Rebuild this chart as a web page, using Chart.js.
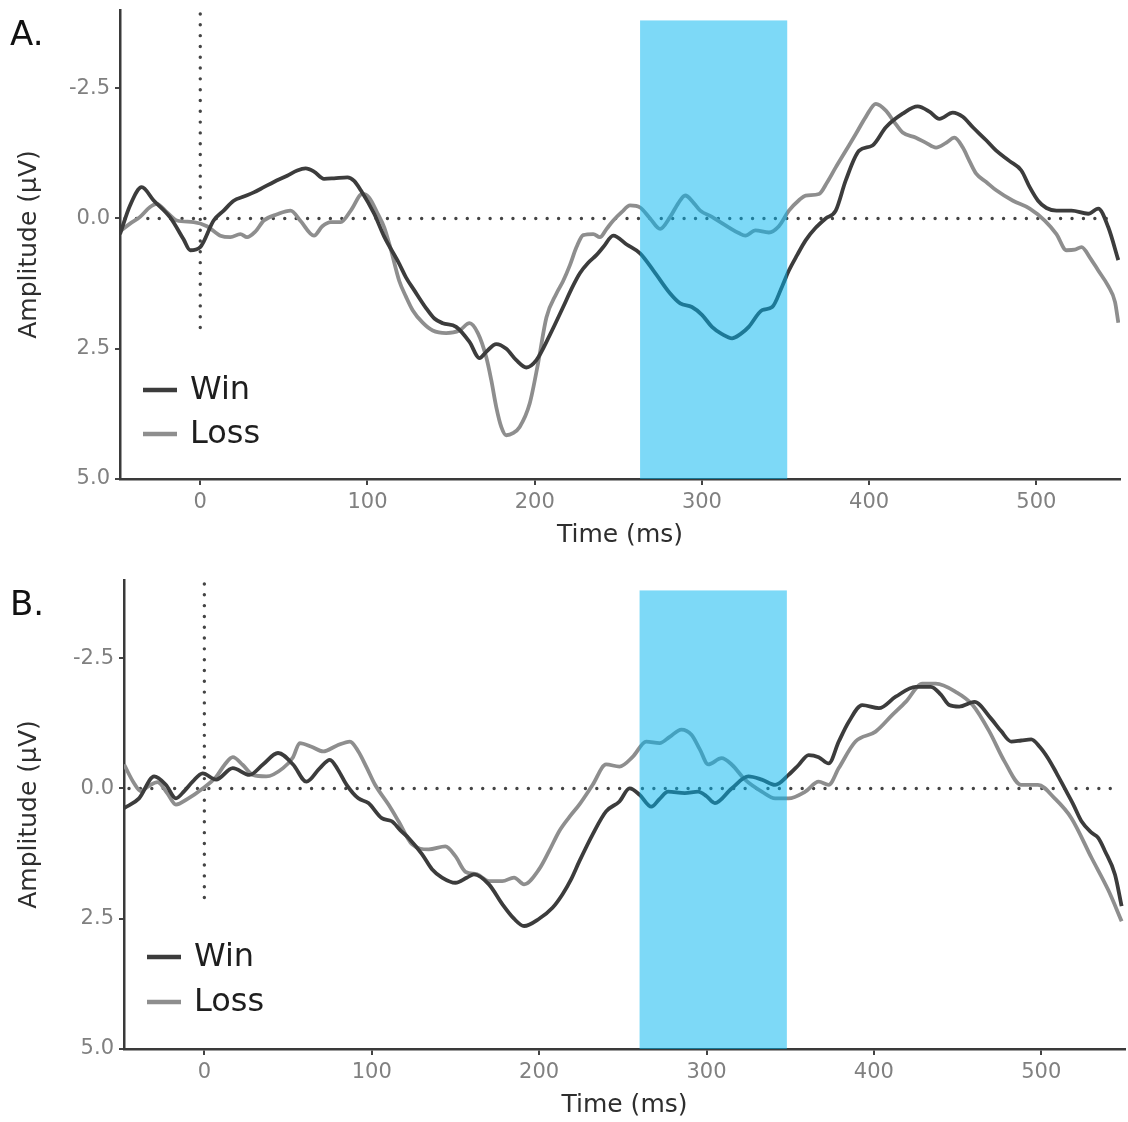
<!DOCTYPE html>
<html>
<head>
<meta charset="utf-8">
<title>Win vs Loss ERP</title>
<script src="https://cdn.jsdelivr.net/npm/chart.js@4.4.0/dist/chart.umd.min.js"></script>
<style>
  html, body { margin: 0; padding: 0; background: #fff; }
  #page { position: relative; width: 1128px; height: 1122px; overflow: hidden; }
  canvas { position: absolute; left: 0; }
  #chartA { top: 0; }
  #chartB { top: 565px; }
  .panel-label { position: absolute; left: 10px; font: 34px 'DejaVu Sans'; line-height: 34px; color: #111; }
</style>
</head>
<body>
<div id="page">
  <canvas id="chartA" width="1128" height="565"></canvas>
  <canvas id="chartB" width="1128" height="557"></canvas>
  <div class="panel-label" style="top:16px">A.</div>
  <div class="panel-label" style="top:586px">B.</div>
</div>
<script>
// axis setup (ms / microvolts)
const timeRange = [-48, 550];
const amplitudeRange = [-4, 5];
const timeTicks = [0, 100, 200, 300, 400, 500];
const amplitudeTicks = [-2.5, 0, 2.5, 5];
const seriesLabels = ['Win', 'Loss'];

// shaded analysis window and reference lines
const windowA = [263, 351];
const windowB = [260, 348];
const windowTop = -3.8;
const onsetLineEnd = 2.15;
const baselineEnd = 547;

// panel A: [time, amplitude]
const winA = [
	[-48, 0.3], [-42, -0.25], [-35, -0.6], [-28, -0.35], [-18, -0.02], [-10, 0.4], [-6, 0.61], [0, 0.55],
	[8, 0.04], [14, -0.15], [20, -0.34], [26, -0.42], [32, -0.5], [38, -0.6], [44, -0.7], [52, -0.82],
	[58, -0.92], [63, -0.96], [68, -0.9], [74, -0.76], [80, -0.77], [88, -0.79], [92, -0.72], [96, -0.54],
	[104, -0.09], [110, 0.35], [119, 0.87], [123, 1.13], [128, 1.38], [135, 1.72], [140, 1.92], [145, 2.01],
	[153, 2.08], [161, 2.37], [167, 2.68], [171, 2.56], [177, 2.41], [183, 2.5], [189, 2.72], [195, 2.86],
	[201, 2.72], [209, 2.24], [217, 1.7], [222, 1.35], [227, 1.05], [232, 0.85], [237, 0.7], [241, 0.55],
	[247, 0.33], [255, 0.5], [263, 0.67], [271, 1.0], [281, 1.44], [287, 1.63], [294, 1.7], [300, 1.85],
	[306, 2.08], [312, 2.22], [318, 2.3], [323, 2.22], [328, 2.08], [336, 1.76], [342, 1.7], [348, 1.3],
	[352, 1.0], [357, 0.7], [362, 0.42], [368, 0.18], [374, 0], [380, -0.15], [386, -0.73], [394, -1.3],
	[402, -1.4], [410, -1.75], [420, -2.01], [429, -2.15], [436, -2.05], [442, -1.91], [450, -2.03], [456, -1.95],
	[462, -1.75], [470, -1.5], [476, -1.3], [484, -1.1], [491, -0.92], [496, -0.6], [501, -0.34], [506, -0.2],
	[512, -0.15], [521, -0.15], [531, -0.09], [537, -0.19], [543, 0.17], [549, 0.8]
];
const lossA = [
	[-48, 0.25], [-42, 0.1], [-36, -0.03], [-30, -0.22], [-26, -0.28], [-20, -0.12], [-14, 0.04], [-4, 0.07],
	[4, 0.15], [12, 0.33], [18, 0.36], [24, 0.3], [28, 0.36], [33, 0.25], [38, 0.04], [46, -0.08],
	[54, -0.15], [60, 0.05], [68, 0.33], [73, 0.15], [78, 0.07], [84, 0.07], [90, -0.15], [97, -0.47],
	[101, -0.4], [106, -0.1], [110, 0.17], [114, 0.6], [119, 1.2], [123, 1.5], [127, 1.76], [133, 2.0],
	[139, 2.15], [147, 2.2], [155, 2.15], [161, 2.01], [166, 2.2], [171, 2.66], [174, 3.1], [177, 3.62],
	[180, 4.0], [183, 4.16], [187, 4.12], [191, 4.0], [197, 3.55], [202, 2.78], [207, 1.9], [213, 1.44],
	[217, 1.2], [221, 0.9], [225, 0.55], [229, 0.32], [235, 0.3], [239, 0.36], [243, 0.2], [247, 0.04],
	[252, -0.12], [257, -0.25], [263, -0.21], [269, 0.0], [275, 0.2], [281, -0.03], [286, -0.3], [290, -0.44],
	[295, -0.3], [299, -0.15], [306, -0.03], [311, 0.07], [316, 0.17], [322, 0.28], [326, 0.33], [332, 0.23],
	[340, 0.27], [346, 0.15], [352, -0.15], [358, -0.35], [362, -0.44], [370, -0.47], [375, -0.7], [380, -0.98],
	[386, -1.3], [392, -1.62], [398, -1.95], [404, -2.2], [410, -2.07], [415, -1.85], [420, -1.65], [428, -1.55],
	[434, -1.45], [440, -1.36], [446, -1.45], [451, -1.55], [456, -1.36], [460, -1.1], [464, -0.86], [470, -0.7],
	[476, -0.54], [486, -0.34], [496, -0.19], [505, 0.04], [512, 0.3], [518, 0.61], [523, 0.6], [527, 0.55],
	[532, 0.75], [537, 1.0], [543, 1.3], [547, 1.6], [549, 2.0]
];

// panel B: [time, amplitude]
const winB = [
	[-48, 0.38], [-39, 0.19], [-30, -0.23], [-23, -0.07], [-17, 0.19], [-12, 0.05], [-7, -0.13], [-1, -0.29],
	[7, -0.17], [17, -0.39], [27, -0.26], [35, -0.46], [44, -0.68], [53, -0.46], [61, -0.13], [69, -0.39],
	[75, -0.55], [80, -0.35], [85, -0.07], [92, 0.19], [98, 0.28], [106, 0.57], [112, 0.63], [117, 0.8],
	[122, 0.95], [130, 1.26], [136, 1.55], [142, 1.71], [150, 1.81], [157, 1.71], [161, 1.65], [170, 1.84],
	[178, 2.22], [185, 2.5], [191, 2.64], [200, 2.5], [208, 2.29], [214, 2.03], [219, 1.75], [224, 1.4],
	[232, 0.88], [240, 0.44], [248, 0.25], [254, 0.0], [260, 0.12], [267, 0.35], [272, 0.2], [277, 0.06],
	[287, 0.09], [295, 0.06], [300, 0.15], [305, 0.28], [315, 0.0], [325, -0.23], [333, -0.17], [341, -0.07],
	[349, -0.26], [355, -0.45], [361, -0.64], [367, -0.6], [373, -0.48], [379, -0.9], [385, -1.28], [393, -1.6],
	[403, -1.54], [413, -1.76], [425, -1.95], [434, -1.95], [440, -1.8], [445, -1.6], [451, -1.57], [460, -1.66],
	[470, -1.34], [476, -1.1], [482, -0.9], [488, -0.92], [494, -0.94], [499, -0.8], [504, -0.58], [509, -0.3],
	[514, 0.0], [519, 0.3], [524, 0.63], [530, 0.85], [534, 0.95], [538, 1.2], [544, 1.65], [548, 2.26]
];
const lossB = [
	[-48, -0.46], [-42, -0.1], [-38, 0.05], [-33, -0.05], [-28, -0.12], [-22, 0.1], [-17, 0.31], [-10, 0.2],
	[-1, 0.0], [7, -0.22], [12, -0.45], [17, -0.6], [23, -0.45], [29, -0.26], [37, -0.23], [47, -0.39],
	[53, -0.6], [57, -0.87], [64, -0.8], [71, -0.71], [79, -0.82], [87, -0.9], [92, -0.71], [97, -0.4],
	[102, -0.07], [110, 0.31], [116, 0.63], [124, 1.07], [134, 1.17], [144, 1.11], [150, 1.3], [156, 1.6],
	[163, 1.65], [170, 1.78], [178, 1.78], [185, 1.71], [191, 1.84], [200, 1.55], [206, 1.2], [212, 0.82],
	[218, 0.55], [224, 0.31], [232, -0.07], [240, -0.46], [248, -0.42], [256, -0.61], [264, -0.9], [272, -0.87],
	[278, -0.99], [285, -1.13], [291, -1.03], [296, -0.75], [301, -0.46], [309, -0.58], [315, -0.46], [323, -0.17],
	[333, 0.06], [341, 0.19], [349, 0.19], [359, 0.06], [367, -0.13], [373, -0.07], [379, -0.39], [389, -0.9],
	[401, -1.09], [411, -1.41], [419, -1.66], [429, -2.01], [437, -2.01], [449, -1.85], [459, -1.6], [469, -1.09],
	[478, -0.52], [488, -0.07], [498, -0.07], [508, 0.19], [518, 0.57], [530, 1.33], [540, 1.95], [548, 2.55]
];

const WIN_COLOR = '#3c3c3c';
const LOSS_COLOR = '#8e8e8e';
const AXIS_COLOR = '#3a3a3a';

Chart.defaults.font.family = "'DejaVu Sans', sans-serif";

const toPoints = ( pairs ) => pairs.map( ( [ x, y ] ) => ( { x, y } ) );

// dotted baseline at 0 uV and stimulus onset at 0 ms
const referenceLines = {
	id: 'referenceLines',
	beforeDatasetsDraw( chart ) {
		const { ctx, scales: { x, y } } = chart;
		ctx.save();
		ctx.strokeStyle = '#444';
		ctx.lineWidth = 3.4;
		ctx.lineCap = 'round';
		ctx.setLineDash( [ 0.01, 11.4 ] );
		ctx.beginPath();
		ctx.moveTo( x.getPixelForValue( timeRange[ 0 ] ) + 5, y.getPixelForValue( 0 ) );
		ctx.lineTo( x.getPixelForValue( baselineEnd ), y.getPixelForValue( 0 ) );
		ctx.stroke();
		ctx.setLineDash( [ 0.01, 10.8 ] );
		ctx.beginPath();
		ctx.moveTo( x.getPixelForValue( 0 ), y.getPixelForValue( amplitudeRange[ 0 ] ) + 4 );
		ctx.lineTo( x.getPixelForValue( 0 ), y.getPixelForValue( onsetLineEnd ) );
		ctx.stroke();
		ctx.restore();
	},
};

// translucent blue analysis window, laid over the waveforms
const analysisWindow = {
	id: 'analysisWindow',
	afterDatasetsDraw( chart, args, opts ) {
		const { ctx, scales: { x, y } } = chart;
		const left = x.getPixelForValue( opts.range[ 0 ] );
		const right = x.getPixelForValue( opts.range[ 1 ] );
		const top = y.getPixelForValue( windowTop );
		const bottom = y.getPixelForValue( amplitudeRange[ 1 ] );
		ctx.save();
		ctx.fillStyle = 'rgba(0, 180, 240, 0.51)';
		ctx.fillRect( left, top, right - left, bottom - top );
		ctx.restore();
	},
};

// legend sitting inside the plot, bottom left
const insetLegend = {
	id: 'insetLegend',
	afterDraw( chart, args, opts ) {
		const { ctx, chartArea } = chart;
		ctx.save();
		ctx.font = "32px 'DejaVu Sans'";
		ctx.textBaseline = 'middle';
		chart.data.datasets.forEach( ( ds, i ) => {
			const yPos = chartArea.bottom - opts.rows[ i ];
			ctx.strokeStyle = ds.borderColor;
			ctx.lineWidth = 4.5;
			ctx.beginPath();
			ctx.moveTo( chartArea.left + 23, yPos );
			ctx.lineTo( chartArea.left + 57, yPos );
			ctx.stroke();
			ctx.fillStyle = '#1e1e1e';
			ctx.fillText( ds.label, chartArea.left + 70, yPos + 1 );
		} );
		ctx.restore();
	},
};

function drawPanel( id, win, loss, range, layout ) {
	const line = ( label, data, color ) => ( {
		label,
		data: toPoints( data ),
		borderColor: color,
		borderWidth: 3.8,
		pointRadius: 0,
		fill: false,
		cubicInterpolationMode: 'monotone',
	} );

	return new Chart( document.getElementById( id ), {
		type: 'line',
		data: {
			datasets: [
				line( seriesLabels[ 0 ], win, WIN_COLOR ),
				line( seriesLabels[ 1 ], loss, LOSS_COLOR ),
			],
		},
		options: {
			responsive: false,
			animation: false,
			events: [],
			layout: { padding: layout.padding },
			plugins: {
				legend: { display: false },
				tooltip: { enabled: false },
				analysisWindow: { range },
				insetLegend: { rows: layout.legendRows },
			},
			scales: {
				x: {
					type: 'linear',
					min: timeRange[ 0 ],
					max: timeRange[ 1 ],
					afterBuildTicks: ( s ) => { s.ticks = timeTicks.map( ( value ) => ( { value } ) ); },
					afterFit: ( s ) => {
						s.height = layout.xHeight;
						s.paddingLeft = 0;
						s.paddingRight = 0;
					},
					ticks: {
						color: '#808080',
						font: { size: 21 },
						padding: 5,
						maxRotation: 0,
						callback: ( v ) => String( v ),
					},
					grid: { drawOnChartArea: false, drawTicks: true, tickLength: 6, color: '#444', lineWidth: 2 },
					border: { display: true, color: AXIS_COLOR, width: 2.5 },
					title: {
						display: true,
						text: 'Time (ms)',
						color: '#2e2e2e',
						font: { size: 25 },
						padding: { top: 0, bottom: layout.xTitlePad },
					},
				},
				y: {
					type: 'linear',
					reverse: true,
					min: amplitudeRange[ 0 ],
					max: amplitudeRange[ 1 ],
					afterBuildTicks: ( s ) => { s.ticks = amplitudeTicks.map( ( value ) => ( { value } ) ); },
					afterFit: ( s ) => {
						s.width = layout.yWidth;
						s.paddingTop = 0;
						s.paddingBottom = 0;
					},
					ticks: {
						color: '#808080',
						font: { size: 21 },
						padding: 5,
						callback: ( v ) => Number( v ).toFixed( 1 ),
					},
					grid: { drawOnChartArea: false, drawTicks: true, tickLength: 5, color: '#444', lineWidth: 2 },
					border: { display: true, color: AXIS_COLOR, width: 2.5 },
					title: {
						display: true,
						text: 'Amplitude (μV)',
						color: '#2e2e2e',
						font: { size: 25 },
						padding: { top: 14, bottom: 0 },
					},
				},
			},
		},
		plugins: [ referenceLines, analysisWindow, insetLegend ],
	} );
}

drawPanel( 'chartA', winA, lossA, windowA, {
	padding: { top: 10, right: 8, left: 0, bottom: 0 },
	yWidth: 120,
	xHeight: 86,
	xTitlePad: 15,
	legendRows: [ 89, 45 ],
} );

drawPanel( 'chartB', winB, lossB, windowB, {
	padding: { top: 15, right: 3, left: 0, bottom: 0 },
	yWidth: 124,
	xHeight: 73,
	xTitlePad: 2,
	legendRows: [ 92, 47 ],
} );
</script>
</body>
</html>
